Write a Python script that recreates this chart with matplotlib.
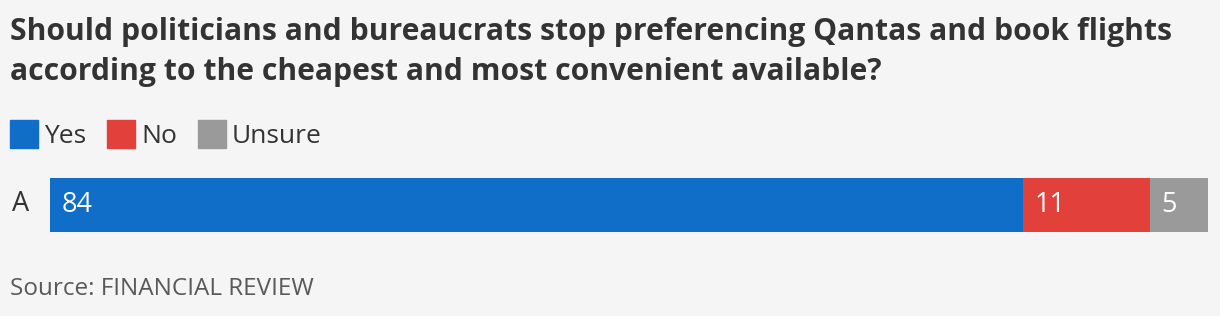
import matplotlib.pyplot as plt
from matplotlib.patches import Rectangle

plt.rcParams['font.family'] = ['Open Sans', 'Noto Sans', 'DejaVu Sans']

title = ("Should politicians and bureaucrats stop preferencing Qantas and book flights\n"
         "according to the cheapest and most convenient available?")
row_label = "A"
categories = ["Yes", "No", "Unsure"]
values = [84, 11, 5]
colors = ["#106dc8", "#e2403a", "#9a9a9a"]
source = "Source: FINANCIAL REVIEW"

W, H = 1220, 316
bg = "#f5f5f5"
fig = plt.figure(figsize=(W / 100, H / 100), dpi=100, facecolor=bg)

fig.text(10 / W, 1 - 17 / H, title, fontsize=21.7, fontweight="bold", color="#333333",
         va="top", ha="left", linespacing=1.45)

# legend
x = 10
for cat, col in zip(categories, colors):
    fig.patches.append(Rectangle((x / W, 1 - 148 / H), 28 / W, 28 / H,
                                 transform=fig.transFigure, color=col))
    t = fig.text((x + 34) / W, 1 - 136 / H, cat, fontsize=19, color="#333333",
                 va="center", ha="left")
    fig.canvas.draw()
    bb = t.get_window_extent()
    x = bb.x1 + 21

# bar
ax = fig.add_axes([50 / W, 1 - 232 / H, 1158 / W, 54 / H])
ax.set_facecolor(bg)
left = 0
for v, col in zip(values, colors):
    ax.barh(0, v, left=left, color=col, height=1)
    ax.text(left + 1, 0, str(v), color="white", fontsize=19.5, va="center", ha="left")
    left += v
ax.set_xlim(0, sum(values))
ax.set_ylim(-0.5, 0.5)
ax.axis("off")

fig.text(12 / W, 1 - 204 / H, row_label, fontsize=19.5, color="#333333", va="center", ha="left")
fig.text(10 / W, 1 - 289 / H, source, fontsize=17.5, color="#595959", va="center", ha="left")

fig.savefig("out.png", dpi=100, facecolor=bg)
